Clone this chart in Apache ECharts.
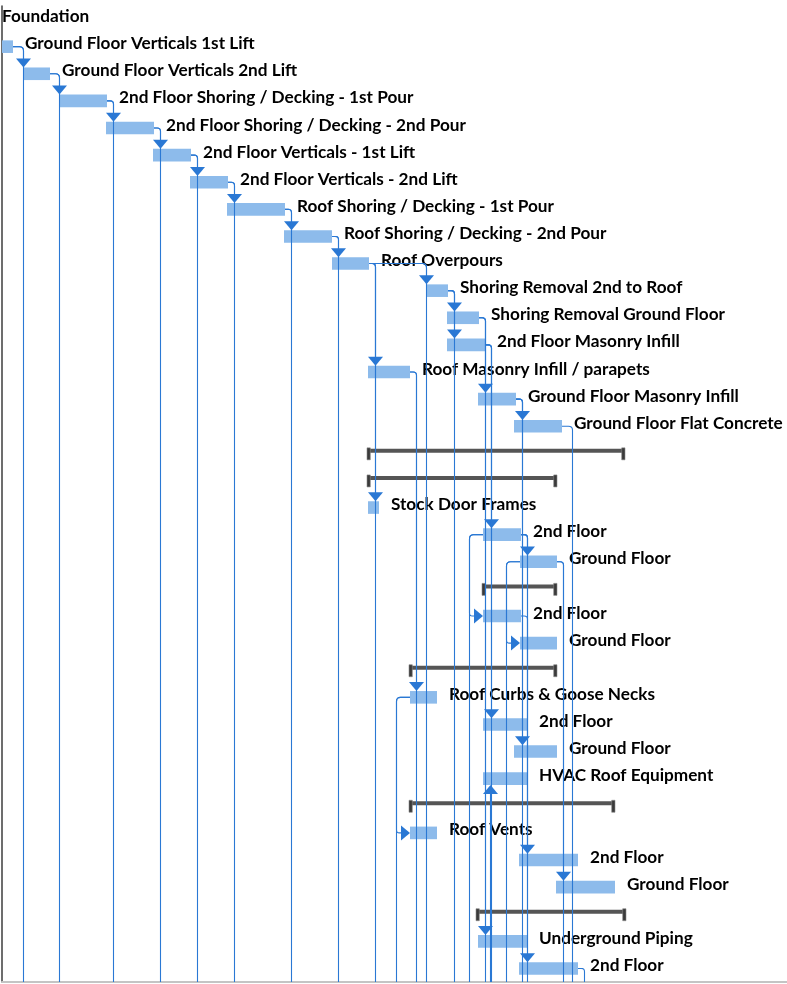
<!DOCTYPE html>
<html>
<head>
<meta charset="utf-8">
<title>Construction schedule</title>
<script src="https://cdn.jsdelivr.net/npm/echarts@6/dist/echarts.min.js"></script>
<style>
  html, body { margin: 0; padding: 0; background: #fff; }
  #main { width: 787px; height: 984px; }
</style>
</head>
<body>
<div id="main"></div>
<script>
// task rows, top to bottom ('' = summary row, no label)
var taskNames = [
  'Foundation',
  'Ground Floor Verticals 1st Lift',
  'Ground Floor Verticals 2nd Lift',
  '2nd Floor Shoring / Decking - 1st Pour',
  '2nd Floor Shoring / Decking - 2nd Pour',
  '2nd Floor Verticals - 1st Lift',
  '2nd Floor Verticals - 2nd Lift',
  'Roof Shoring / Decking - 1st Pour',
  'Roof Shoring / Decking - 2nd Pour',
  'Roof Overpours',
  'Shoring Removal 2nd to Roof',
  'Shoring Removal Ground Floor',
  '2nd Floor Masonry Infill',
  'Roof Masonry Infill / parapets',
  'Ground Floor Masonry Infill',
  'Ground Floor Flat Concrete',
  '',
  '',
  'Stock Door Frames',
  '2nd Floor',
  'Ground Floor',
  '',
  '2nd Floor',
  'Ground Floor',
  '',
  'Roof Curbs & Goose Necks',
  '2nd Floor',
  'Ground Floor',
  'HVAC Roof Equipment',
  '',
  'Roof Vents',
  '2nd Floor',
  'Ground Floor',
  '',
  'Underground Piping',
  '2nd Floor'
];
// start / finish, in days from the left edge of the view
var taskStart = [-3.0, -0.4, 2.1, 5.7, 10.4, 15.1, 18.8, 22.5, 28.2, 33.0,
  42.4, 44.5, 44.5, 36.6, 47.6, 51.2, 36.5, 36.5, 36.6, 48.1,
  51.8, 48.0, 48.1, 51.8, 40.7, 40.8, 48.1, 51.2, 48.1, 40.7,
  40.8, 51.7, 55.4, 47.4, 47.6, 51.7];
var taskEnd = [-1.2, 1.1, 4.8, 10.5, 15.2, 18.9, 22.6, 28.3, 33.0, 36.7,
  44.6, 47.7, 48.3, 40.8, 51.4, 56.0, 62.3, 55.5, 37.7, 51.9,
  55.5, 55.5, 51.9, 55.5, 55.5, 43.5, 52.5, 55.5, 52.5, 61.3,
  43.5, 57.6, 61.3, 62.4, 52.5, 57.6];
var summaryRows = [16, 17, 21, 24, 29, 33];

// finish-to-start links [pred, succ]
var fsLinks = [[1, 2], [2, 3], [3, 4], [4, 5], [5, 6], [6, 7], [7, 8], [8, 9],
  [9, 10], [9, 13], [9, 18], [10, 11], [10, 12], [11, 14], [11, 34],
  [12, 19], [12, 26], [13, 25], [14, 15], [14, 27], [19, 20], [19, 31],
  [20, 32], [22, 35]];
// start-to-start links [pred, succ]
var ssLinks = [[19, 22], [20, 23], [25, 30]];
// finish-to-start links to tasks below the view [pred, successor start]
var fsOut = [[1, 2.1], [2, 5.7], [3, null], [4, null], [5, null], [6, null],
  [7, null], [8, null], [9, null], [9, 42.4], [10, null], [11, null],
  [12, null], [13, null], [14, null], [15, 57.0], [19, null], [20, null],
  [35, null]];
// start-to-start links to tasks below the view
var ssOut = [19, 20, 25];
// finish-to-start links from tasks below the view [pred finish, succ]
var fsIn = [[48.2, 28]];

var BELOW = 38;
var BAR_H = 12.6;
var LINK_COLOR = '#2a78d4';
var BAR_COLOR = '#8dbbeb';

var ctx = document.createElement('canvas').getContext('2d');
ctx.font = 'bold 100px Lato';
var fontSize = Math.round(230 / ctx.measureText('Ground Floor Verticals 1st Lift').width * 1000) / 10;

function isSummary(i) { return summaryRows.indexOf(i) >= 0; }

// build link records
var linkRecs = [];
fsLinks.forEach(function (l) { linkRecs.push({ kind: 'fs', a: l[0], b: l[1] }); });
fsOut.forEach(function (l) { linkRecs.push({ kind: 'fsOut', a: l[0], s: l[1] }); });
ssLinks.forEach(function (l) { linkRecs.push({ kind: 'ss', a: l[0], b: l[1] }); });
ssOut.forEach(function (a) { linkRecs.push({ kind: 'ssOut', a: a }); });
fsIn.forEach(function (l) { linkRecs.push({ kind: 'fsIn', f: l[0], b: l[1] }); });

function snap(v) { return Math.round(v - 0.5) + 0.5; }

function rounded(pts, r) {
  var out = [pts[0]];
  for (var i = 1; i < pts.length - 1; i++) {
    var a = pts[i - 1], p = pts[i], b = pts[i + 1];
    var da = Math.hypot(a[0] - p[0], a[1] - p[1]);
    var db = Math.hypot(b[0] - p[0], b[1] - p[1]);
    var rr = Math.min(r, da / 2, db / 2);
    if (rr < 0.5) { out.push(p); continue; }
    var pin = [p[0] + (a[0] - p[0]) * rr / da, p[1] + (a[1] - p[1]) * rr / da];
    var pout = [p[0] + (b[0] - p[0]) * rr / db, p[1] + (b[1] - p[1]) * rr / db];
    for (var t = 0; t <= 1.001; t += 0.25) {
      var u = 1 - t;
      out.push([u * u * pin[0] + 2 * u * t * p[0] + t * t * pout[0],
                u * u * pin[1] + 2 * u * t * p[1] + t * t * pout[1]]);
    }
  }
  out.push(pts[pts.length - 1]);
  return out;
}

function line(pts) {
  return { type: 'polyline', shape: { points: rounded(pts, 4) },
    style: { stroke: LINK_COLOR, lineWidth: 1.1, fill: null } };
}
function arrowDown(x, yTip) {
  return { type: 'polygon', shape: { points: [[x - 7.5, yTip - 9], [x + 7.5, yTip - 9], [x, yTip]] },
    style: { fill: LINK_COLOR } };
}
function arrowUp(x, yTip) {
  return { type: 'polygon', shape: { points: [[x - 7.5, yTip + 9], [x + 7.5, yTip + 9], [x, yTip]] },
    style: { fill: LINK_COLOR } };
}
function arrowRight(xTip, y) {
  return { type: 'polygon', shape: { points: [[xTip - 9, y - 7.5], [xTip - 9, y + 7.5], [xTip, y]] },
    style: { fill: LINK_COLOR } };
}

var chart = echarts.init(document.getElementById('main'));
chart.setOption({
  animation: false,
  grid: { left: 2, right: 0, top: 6, bottom: 2 },
  xAxis: {
    type: 'value', min: 0, max: 78.5, position: 'bottom',
    axisLine: { show: true, onZero: false, lineStyle: { color: '#c4c4c4', width: 2 } },
    axisTick: { show: false }, axisLabel: { show: false }, splitLine: { show: false }
  },
  yAxis: {
    type: 'value', inverse: true, min: -0.5, max: 35.5, position: 'left',
    axisLine: { show: true, onZero: false, lineStyle: { color: '#3c3c3c', width: 1.5 } },
    axisTick: { show: false }, axisLabel: { show: false }, splitLine: { show: false }
  },
  series: [
    {
      type: 'custom',
      clip: true,
      z: 2,
      data: taskNames.map(function (n, i) { return [taskStart[i], taskEnd[i], i]; }),
      encode: { x: [0, 1], y: 2 },
      renderItem: function (params, api) {
        var i = api.value(2);
        var p0 = api.coord([api.value(0), i]);
        var p1 = api.coord([api.value(1), i]);
        var cy = p0[1];
        var children = [];
        if (isSummary(i)) {
          children.push({ type: 'rect', shape: { x: p0[0], y: cy - 4.5, width: p1[0] - p0[0], height: 4 },
            style: { fill: '#555555' } });
          children.push({ type: 'rect', shape: { x: p0[0], y: cy - 5.5, width: 3.3, height: 12 },
            style: { fill: '#3a3a3a', stroke: '#8a8a8a', lineWidth: 0.6 } });
          children.push({ type: 'rect', shape: { x: p1[0] - 3.3, y: cy - 5.5, width: 3.3, height: 12 },
            style: { fill: '#3a3a3a', stroke: '#8a8a8a', lineWidth: 0.6 } });
        } else {
          children.push({ type: 'rect', shape: { x: p0[0], y: cy - BAR_H / 2, width: p1[0] - p0[0], height: BAR_H },
            style: { fill: BAR_COLOR } });
        }
        if (taskNames[i]) {
          children.push({ type: 'text', x: p1[0] + 12, y: cy - 3,
            style: { text: taskNames[i], fill: '#000', fontFamily: 'Lato', fontWeight: 'bold',
              fontSize: fontSize, align: 'left', verticalAlign: 'middle' } });
        }
        return { type: 'group', children: children };
      }
    },
    {
      type: 'custom',
      clip: true,
      z: 5,
      data: linkRecs.map(function (r, k) { return [0, 0, k]; }),
      renderItem: function (params, api) {
        var r = linkRecs[params.dataIndex];
        var c = function (d, row) { return api.coord([d, row]); };
        var kids = [];
        if (r.kind === 'fs' || r.kind === 'fsOut') {
          var e = c(taskEnd[r.a], r.a);
          var sDay = r.kind === 'fs' ? taskStart[r.b] : r.s;
          var X = e[0] + 6;
          if (sDay !== null) X = Math.max(X, c(sDay, r.a)[0]);
          X = snap(X);
          if (r.kind === 'fs') {
            var yTip = c(0, r.b)[1] - BAR_H / 2;
            kids.push(line([[e[0], e[1]], [X, e[1]], [X, yTip - 8]]));
            kids.push(arrowDown(X, yTip));
          } else {
            kids.push(line([[e[0], e[1]], [X, e[1]], [X, c(0, BELOW)[1]]]));
          }
        } else if (r.kind === 'ss' || r.kind === 'ssOut') {
          var s = c(taskStart[r.a], r.a);
          var X2 = snap(s[0] - 14);
          if (r.kind === 'ss') {
            var t = c(taskStart[r.b], r.b);
            kids.push(line([[s[0], s[1]], [X2, s[1]], [X2, t[1]], [t[0] - 8, t[1]]]));
            kids.push(arrowRight(t[0], t[1]));
          } else {
            kids.push(line([[s[0], s[1]], [X2, s[1]], [X2, c(0, BELOW)[1]]]));
          }
        } else if (r.kind === 'fsIn') {
          var X3 = snap(c(r.f, 0)[0] + 6);
          var yB = c(0, r.b)[1] + BAR_H / 2;
          kids.push(line([[X3, c(0, BELOW)[1]], [X3, yB + 8]]));
          kids.push(arrowUp(X3, yB));
        }
        return { type: 'group', children: kids };
      }
    }
  ]
});
</script>
</body>
</html>
